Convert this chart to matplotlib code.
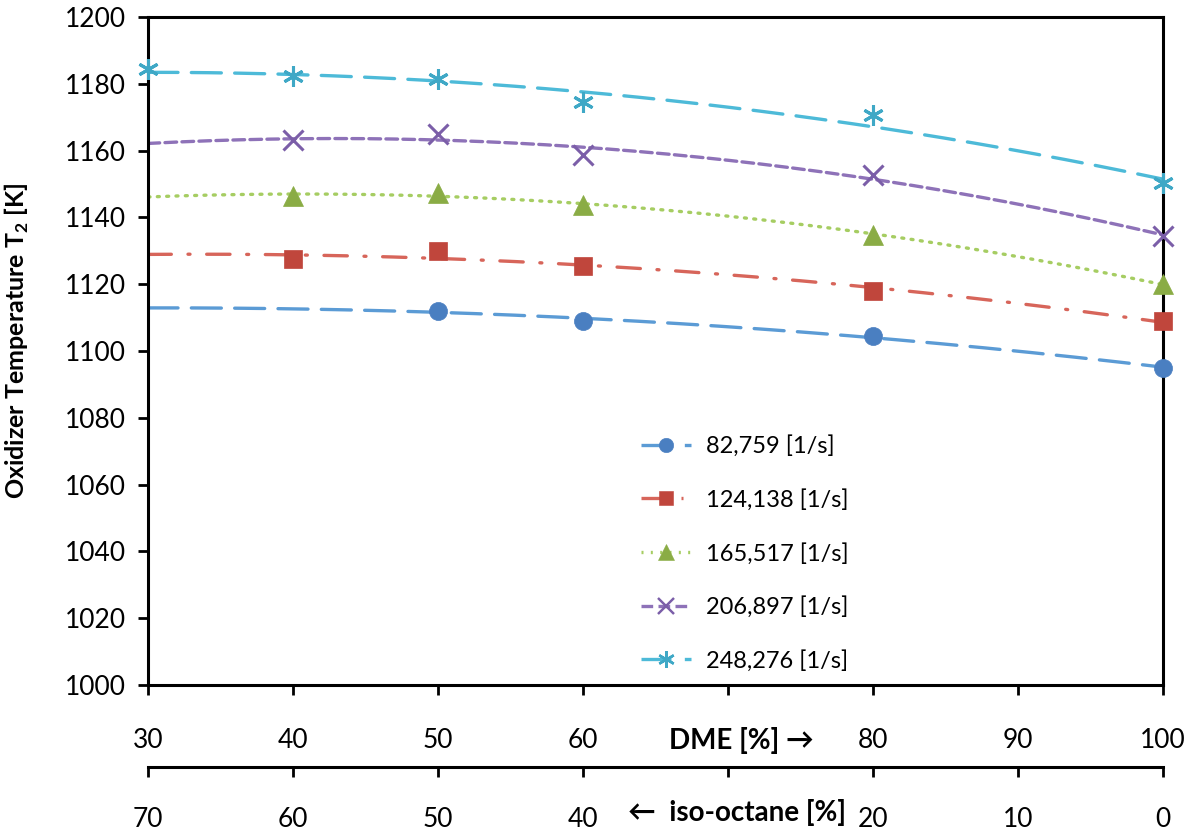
import numpy as np
import matplotlib
matplotlib.use("Agg")
import matplotlib.pyplot as plt
from matplotlib.lines import Line2D

plt.rcParams['font.family'] = ['Lato', 'DejaVu Sans']
plt.rcParams['mathtext.fontset'] = 'custom'
plt.rcParams['mathtext.rm'] = 'Lato'
plt.rcParams['mathtext.bf'] = 'Lato:bold'

# ---------------- data ----------------
labels = ['82,759 [1/s]', '124,138 [1/s]', '165,517 [1/s]', '206,897 [1/s]', '248,276 [1/s]']
x_blue = [50, 60, 80, 100]
y_blue = [1112, 1109, 1104.5, 1095]
x_red = [40, 50, 60, 80, 100]
y_red = [1127.5, 1130, 1125.3, 1118, 1109]
x_green = [40, 50, 60, 80, 100]
y_green = [1146.5, 1147.3, 1143.8, 1134.8, 1120]
x_purple = [40, 50, 60, 80, 100]
y_purple = [1163.2, 1165, 1158.6, 1152.7, 1134.4]
x_cyan = [30, 40, 50, 60, 80, 100]
y_cyan = [1184.3, 1182.2, 1181.4, 1174.5, 1170.6, 1150.2]

dme_ticks = [30, 40, 50, 60, 70, 80, 90, 100]
dme_ticklabels = ['30', '40', '50', '60', '', '80', '90', '100']
iso_ticks = [70, 60, 50, 40, 30, 20, 10, 0]
iso_ticklabels = ['70', '60', '50', '40', '', '20', '10', '0']
y_ticks = list(range(1000, 1201, 20))

series = [
    (x_blue, y_blue, labels[0], '#4a7fc1', '#5b9bd5', 'o', 13, (9, 4)),
    (x_red, y_red, labels[1], '#c0463c', '#d7655a', 's', 13, (7, 5, 0.6, 5)),
    (x_green, y_green, labels[2], '#8aac45', '#a6cd62', '^', 14, (0.6, 2.2)),
    (x_purple, y_purple, labels[3], '#7b5ea8', '#8e72b8', 'x', 14, (3.5, 1.6)),
    (x_cyan, y_cyan, labels[4], '#3fa8c6', '#4dbad8', (6, 2, 0), 15, (9, 4)),
]

fig = plt.figure(figsize=(11.89, 8.38), dpi=100)
ax = fig.add_axes([148 / 1189, 1 - 685 / 838, (1163 - 148) / 1189, (685 - 17) / 838])

xfit = np.linspace(30, 100, 200)
handles = []
for xs, ys, lab, mcol, lcol, mk, ms, dash in series:
    coef = np.polyfit(xs, ys, 2)
    ln, = ax.plot(xfit, np.polyval(coef, xfit), color=lcol, lw=2.4,
                  dash_capstyle='round', solid_capstyle='round', zorder=2)
    ln.set_dashes(dash)
    mew = 2.2 if mk in ('x',) or isinstance(mk, tuple) else 0.5
    ax.plot(xs, ys, linestyle='none', marker=mk, markersize=ms,
            color=mcol, markeredgecolor=mcol, markeredgewidth=mew, zorder=3,
            clip_on=False)
    h = Line2D([], [], color=lcol, lw=2.4, marker=mk, markersize=ms * 0.8,
               markerfacecolor=mcol, markeredgecolor=mcol, markeredgewidth=mew * 0.8)
    h.set_dashes(dash)
    handles.append(h)

ax.set_xlim(30, 100)
ax.set_ylim(1000, 1200)
ax.set_yticks(y_ticks)
ax.set_xticks(dme_ticks)
ax.set_xticklabels(dme_ticklabels)

for s in ax.spines.values():
    s.set_linewidth(2.2)
ax.tick_params(axis='both', direction='out', length=7, width=2, labelsize=19)
ax.tick_params(axis='y', pad=9)
ax.tick_params(axis='x', pad=24)
ax.tick_params(top=False, right=False)

ax.set_ylabel('Oxidizer Temperature T$_{\\mathbf{2}}$ [K]', fontsize=18,
              fontweight='bold')
ax.yaxis.set_label_coords(-0.115, 0.515)

sec = ax.secondary_xaxis(-82 / 668, functions=(lambda x: 100 - x, lambda x: 100 - x))
sec.set_xticks(iso_ticks)
sec.set_xticklabels(iso_ticklabels)
sec.spines['bottom'].set_linewidth(2.2)
sec.tick_params(axis='x', direction='out', length=7, width=2, labelsize=19, pad=22)

trans = ax.get_xaxis_transform()
ax.text(70.9, -0.083, 'DME [%] \u2192', transform=trans, ha='center', va='center',
        fontsize=20, fontweight='bold')
ax.text(70.6, -0.191, '\u2190  iso-octane [%]', transform=trans, ha='center', va='center',
        fontsize=20, fontweight='bold')

leg = ax.legend(handles, labels, loc='upper left', bbox_to_anchor=(620 / 1189, 1 - 414 / 838),
                bbox_transform=fig.transFigure, frameon=False, fontsize=17,
                labelspacing=1.35, handlelength=2.1, handletextpad=0.65)

fig.savefig('out.png', dpi=100)
